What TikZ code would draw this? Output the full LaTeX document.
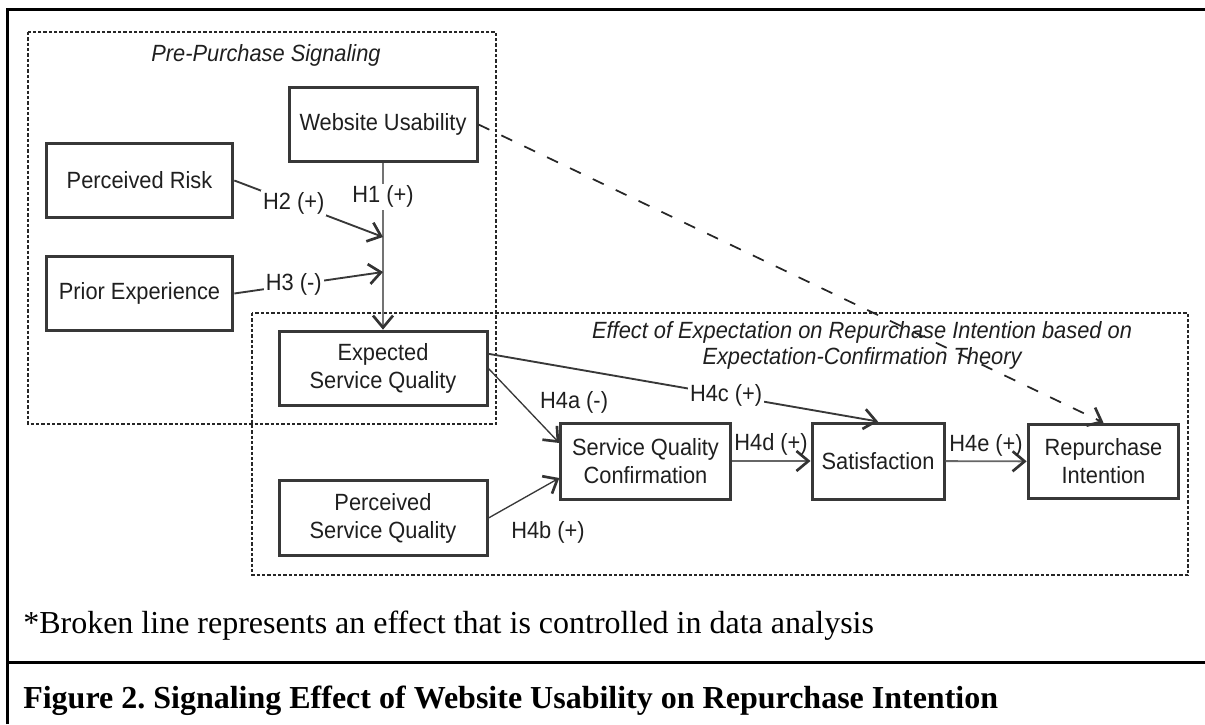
\documentclass[tikz,border=0pt]{standalone}
\usepackage{fontspec}
\setmainfont{Liberation Serif}
\setsansfont[FakeStretch=0.93]{Liberation Sans}
\usetikzlibrary{arrows.meta}
\frenchspacing

\begin{document}
\begin{tikzpicture}[x=0.75pt, y=-0.75pt, font=\sffamily\fontsize{17.6}{21}\selectfont,
  box/.style={draw=black!78, line width=2.25pt, fill=white, text=black!88, align=center, inner sep=2pt},
  grp/.style={draw=black!85, line width=0.8pt, dash pattern=on 2.5pt off 1.5pt},
  hyp/.style={draw=black!78, line width=1.4pt, -{Straight Barb[length=9pt,width=15pt,line width=2pt,color=black!80]}},
  lab/.style={fill=white, inner sep=1.5pt, text=black!88}]
\useasboundingbox (0,0) rectangle (1205,724);
% frame
\draw[line width=2.25pt] (7,724) -- (7,10) -- (1205,10);
\draw[line width=2.25pt] (7,662) -- (1205,662);
% groups
\draw[grp] (28,32) rectangle (496,424);
\draw[grp] (252,313) rectangle (1188,575);
\node[text=black!88, font=\sffamily\itshape\fontsize{17.6}{21}\selectfont] (pretitle) at (266,55) {Pre-Purchase Signaling};
\node[text=black!88, align=center, font=\sffamily\itshape\fontsize{17.6}{19.5}\selectfont] (efftitle) at (862,345)
  {Effect of Expectation on Repurchase Intention based on\\Expectation-Confirmation Theory};

% constructs
\node[box, minimum width=141pt, minimum height=56pt] (wu) at (383,124.5) {Website Usability};
\node[box, minimum width=140pt, minimum height=56pt] (pr) at (139.5,180.5) {Perceived Risk};
\node[box, minimum width=140pt, minimum height=56pt] (pe) at (139.5,293.5) {Prior Experience};
\node[box, minimum width=156pt, minimum height=56pt] (esq) at (383,368.5) {Expected\\Service Quality};
\node[box, minimum width=156pt, minimum height=56pt] (psq) at (383,518) {Perceived\\Service Quality};
\node[box, minimum width=127pt, minimum height=57pt] (sqc) at (645.5,461) {Service Quality\\Confirmation};
\node[box, minimum width=99pt, minimum height=57pt] (sat) at (878,461) {Satisfaction};
\node[box, minimum width=113pt, minimum height=56pt] (rep) at (1103.5,461.5) {Repurchase\\Intention};

\coordinate (m2) at (383,237);
\coordinate (m3) at (383,272);

% paths
\draw[hyp, draw=black!55] (wu) -- (esq) node[lab, pos=0.2] {H1 (+)};
\draw[hyp] (pr.east) -- (m2) node[lab, pos=0.4] {H2 (+)};
\draw[hyp] (pe.east) -- (m3) node[lab, pos=0.4] {H3 (-)};
\draw[hyp, line width=1pt] (esq.east) -- ([yshift=13.5pt]sqc.west) node[pos=0.45, right=11pt, text=black!88] {H4a (-)};
\draw[hyp, line width=1pt] (psq.east) -- ([yshift=-12.75pt]sqc.west) node[pos=0.25, anchor=north west, yshift=-6pt, text=black!88] {H4b (+)};
\draw[hyp] ([yshift=11pt]esq.east) -- (sat.north) node[lab, pos=0.61] {H4c (+)};
\draw[hyp, draw=black!60] (sqc) -- (sat) node[midway, above, text=black!88] {H4d (+)};
\draw[hyp, draw=black!60] (sat) -- (rep) node[midway, above, text=black!88] {H4e (+)};
\draw[hyp, draw=black!85, line width=1.3pt, dash pattern=on 9pt off 10pt] (wu.east) -- (rep.north);

% notes
\node[anchor=base west, inner sep=0pt, font=\rmfamily\fontsize{24}{28}\selectfont] (note) at (23,633)
  {*Broken line represents an effect that is controlled in data analysis};
\node[anchor=base west, inner sep=0pt, font=\rmfamily\bfseries\fontsize{24}{28}\selectfont] (caption) at (23,708)
  {Figure 2. Signaling Effect of Website Usability on Repurchase Intention};
\end{tikzpicture}
\end{document}
